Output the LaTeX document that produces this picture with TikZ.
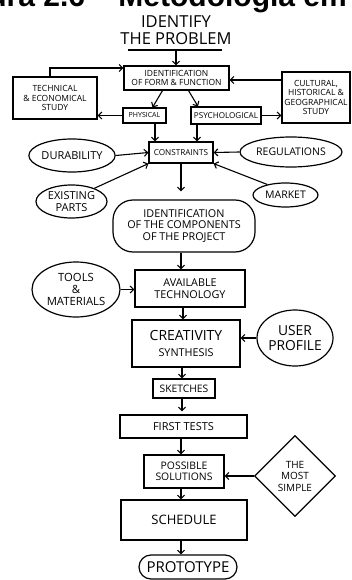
\documentclass[tikz,border=0pt]{standalone}
\usepackage{fontspec}
\setmainfont{Open Sans}
\newfontfamily\titlefont{Liberation Sans}
\usetikzlibrary{shapes.geometric,arrows.meta}
\begin{document}
\begin{tikzpicture}[x=1pt,y=-1pt,
  base/.style={draw, line width=1.2pt, inner sep=0pt, align=center, font=\fontsize{8.5}{9.5}\selectfont},
  box/.style={base, rectangle},
  oval/.style={base, ellipse},
  blob/.style={base, rectangle, rounded corners=20pt},
  pill/.style={base, rectangle, rounded corners=12pt},
  dia/.style={base, diamond},
  arr/.style={-{Straight Barb[length=3.5pt,width=7pt]}, line width=1.1pt}]
\useasboundingbox (0,0) rectangle (352,580);
\begin{scope}
\clip (0,0) rectangle (352,580);
\node[anchor=base east, inner sep=0pt, font=\titlefont\bfseries\fontsize{30}{30}\selectfont] (title) at (347,7) {ura 2.6 – Metodologia em};
\end{scope}

% top
\node[align=center, inner sep=0pt, font=\fontsize{16.5}{17.5}\selectfont] (idp) at (176,30) {IDENTIFY\\THE PROBLEM};
\coordinate (ul1) at (128,50);
\coordinate (ul2) at (222,50);
\coordinate (ulm) at (176,50);
\draw[line width=1.1pt] (ul1) -- (ul2);

\node[box, minimum width=105pt, minimum height=24pt] (idff) at (176.5,78) {IDENTIFICATION\\OF FORM \& FUNCTION};
\draw[arr] (ulm) -- (ulm |- idff.north);

\node[box, minimum width=84pt, minimum height=42pt] (tech) at (55,98) {TECHNICAL\\\& ECONOMICAL\\STUDY};
\node[box, minimum width=68pt, minimum height=51pt] (cult) at (316,97.5) {CULTURAL,\\HISTORICAL \&\\GEOGRAPHICAL\\STUDY};
\node[box, minimum width=43pt, minimum height=15pt, font=\fontsize{7}{8}\selectfont] (phys) at (144.5,115.5) {PHYSICAL};
\node[box, minimum width=70pt, minimum height=17pt, font=\fontsize{8.1}{9}\selectfont] (psy) at (226,115.5) {PSYCHOLOGICAL};

\coordinate (c1) at (50,68);
\draw[arr] (tech.north -| c1) -- (c1) -- (c1 -| idff.west);
\coordinate (c2) at (0,80);
\draw[arr] (cult.west |- c2) -- (idff.east |- c2);
\draw[arr] (phys.west) -- (tech.east |- phys.west);
\draw[arr] (psy.east) -- (cult.west |- psy.east);
\draw[arr] ([xshift=-14pt]idff.south) -- ([xshift=8pt]phys.north);
\draw[arr] ([xshift=12pt]idff.south) -- ([xshift=-28pt]psy.north);

% constraints
\node[box, minimum width=64pt, minimum height=21pt, font=\fontsize{8.2}{9}\selectfont] (cons) at (181,152.5) {CONSTRAINTS};
\draw[arr] ([xshift=10.5pt]phys.south) -- ([xshift=10.5pt]phys.south |- cons.north);
\draw[arr] ([xshift=-29pt]psy.south) -- ([xshift=-29pt]psy.south |- cons.north);

\node[oval, minimum width=80pt, minimum height=33pt, font=\fontsize{11}{12}\selectfont] (dur) at (72,155.5) {DURABILITY};
\node[oval, minimum width=102pt, minimum height=30pt, font=\fontsize{10.5}{11.5}\selectfont] (reg) at (291,152) {REGULATIONS};
\node[oval, minimum width=71pt, minimum height=33pt, font=\fontsize{11}{11.5}\selectfont] (exist) at (71.5,201.5) {EXISTING\\PARTS};
\node[oval, minimum width=65pt, minimum height=24pt, font=\fontsize{10.5}{11.5}\selectfont] (market) at (285.5,195) {MARKET};
\draw[arr] (dur.east) -- (cons.west);
\draw[arr] (reg.west) -- (cons.east);
\draw[arr] (exist.30) -- (cons.south west);
\draw[arr] (market.150) -- (cons.south east);

% components
\node[blob, minimum width=142pt, minimum height=52pt, font=\fontsize{10.8}{11.5}\selectfont] (comp) at (184,226) {IDENTIFICATION\\OF THE COMPONENTS\\OF THE PROJECT};
\draw[arr, shorten >=8pt] (cons.south) -- (cons.south |- comp.north);

\node[box, minimum width=110pt, minimum height=37pt, font=\fontsize{10.8}{11.8}\selectfont] (avail) at (190,288.5) {AVAILABLE\\TECHNOLOGY};
\node[oval, minimum width=88pt, minimum height=55pt, font=\fontsize{11.3}{12}\selectfont] (tools) at (76,289.5) {TOOLS\\\&\\MATERIALS};
\draw[arr] ([xshift=-3pt]comp.south) -- ([xshift=-3pt]comp.south |- avail.north);
\draw[arr] (tools.east) -- (avail.west |- tools.east);

\node[box, minimum width=108pt, minimum height=47pt, font=\fontsize{14}{15}\selectfont] (creat) at (186,343.5) {CREATIVITY\\[0.5pt]{\fontsize{10.8}{11.5}\selectfont SYNTHESIS}};
\node[oval, minimum width=76pt, minimum height=56pt, font=\fontsize{13.8}{14.5}\selectfont] (user) at (295,338) {USER\\PROFILE};
\draw[arr] ([xshift=-3pt]creat.north |- avail.south) -- ([xshift=-3pt]creat.north);
\draw[arr] (user.west) -- (creat.east |- user.west);

\node[box, minimum width=62pt, minimum height=19pt, font=\fontsize{10.3}{11}\selectfont] (sk) at (184,388.5) {SKETCHES};
\draw[arr] ([xshift=-2pt]sk.north |- creat.south) -- ([xshift=-2pt]sk.north);

\node[box, minimum width=127pt, minimum height=23pt, font=\fontsize{11}{12}\selectfont] (ft) at (183.5,426.5) {FIRST TESTS};
\draw[arr, shorten >=3pt] ([xshift=-2pt]sk.south) -- ([xshift=-2pt]sk.south |- ft.north);

\node[box, minimum width=80pt, minimum height=33pt, font=\fontsize{10.4}{11.2}\selectfont] (ps) at (184,471.5) {POSSIBLE\\SOLUTIONS};
\draw[arr] ([xshift=-3pt]ps.north |- ft.south) -- ([xshift=-3pt]ps.north);

\node[dia, minimum width=81pt, minimum height=81pt, font=\fontsize{10}{11.5}\selectfont] (simp) at (295,476) {THE\\MOST\\SIMPLE};
\draw[arr] (simp.west) -- (ps.east |- simp.west);

\node[box, minimum width=126pt, minimum height=40pt, font=\fontsize{13}{14}\selectfont] (sch) at (184,520) {SCHEDULE};
\draw[arr] ([xshift=-3pt]ps.south) -- ([xshift=-3pt]ps.south |- sch.north);

\node[pill, minimum width=98pt, minimum height=24pt, font=\fontsize{15}{16}\selectfont] (proto) at (188,567) {PROTOTYPE};
\draw[arr] ([xshift=-3pt]sch.south) -- ([xshift=-3pt]sch.south |- proto.north);
\end{tikzpicture}
\end{document}
